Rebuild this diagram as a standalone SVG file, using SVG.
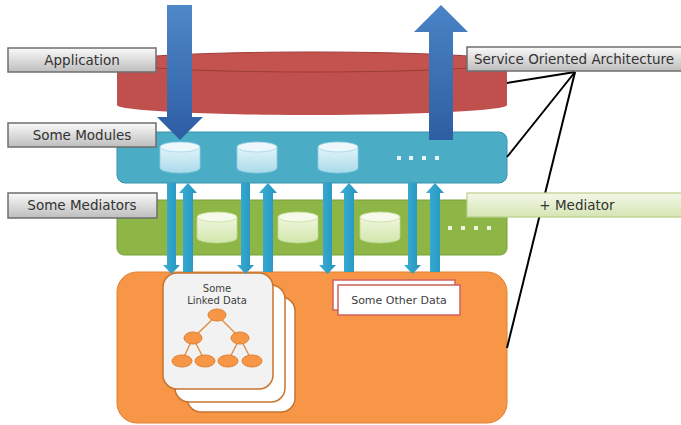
<svg xmlns="http://www.w3.org/2000/svg" width="681" height="425" viewBox="0 0 681 425">
  <defs>
    <linearGradient id="gLabel" x1="0" y1="0" x2="0" y2="1">
      <stop offset="0" stop-color="#FAFAFA"/>
      <stop offset="1" stop-color="#BDBDBD"/>
    </linearGradient>
    <linearGradient id="gLabelGreen" x1="0" y1="0" x2="0" y2="1">
      <stop offset="0" stop-color="#F3F8E8"/>
      <stop offset="1" stop-color="#D5E5B3"/>
    </linearGradient>
    <linearGradient id="gBigDown" x1="0" y1="0" x2="0" y2="1">
      <stop offset="0" stop-color="#4F88C9"/>
      <stop offset="1" stop-color="#2D5DA3"/>
    </linearGradient>
    <linearGradient id="gBigUp" x1="0" y1="0" x2="0" y2="1">
      <stop offset="0" stop-color="#4A84C6"/>
      <stop offset="1" stop-color="#2E5EA2"/>
    </linearGradient>
    <linearGradient id="gCylBlue" x1="0" y1="0" x2="0" y2="1">
      <stop offset="0" stop-color="#E4F4FA"/>
      <stop offset="1" stop-color="#A9DAEA"/>
    </linearGradient>
    <linearGradient id="gCylGreen" x1="0" y1="0" x2="0" y2="1">
      <stop offset="0" stop-color="#F0F7DF"/>
      <stop offset="1" stop-color="#D2E6AB"/>
    </linearGradient>
    <linearGradient id="gSmallArrow" x1="0" y1="0" x2="1" y2="0">
      <stop offset="0" stop-color="#3BB0D6"/>
      <stop offset="1" stop-color="#2592BD"/>
    </linearGradient>
    <style>
      .label { fill: url(#gLabel); stroke: #6E6E6E; stroke-width: 1.5; }
      .labelG { fill: url(#gLabelGreen); stroke: #B9CF8A; stroke-width: 1.2; }
      .lt { font-family: "DejaVu Sans", Verdana, sans-serif; font-size: 13.5px; fill: #333333; text-anchor: middle; }
      .st { font-family: "DejaVu Sans", Verdana, sans-serif; font-size: 10px; fill: #404040; text-anchor: middle; }
      .ot { font-family: "DejaVu Sans", Verdana, sans-serif; font-size: 11px; fill: #404040; text-anchor: middle; }
      .cylB { fill: url(#gCylBlue); stroke: #8CCDE2; stroke-width: 0.8; }
      .cylBtop { fill: #EEF8FC; stroke: #9ED4E6; stroke-width: 0.8; }
      .cylG { fill: url(#gCylGreen); stroke: #BCD88C; stroke-width: 0.8; }
      .cylGtop { fill: #F5FAEA; stroke: #C5DE98; stroke-width: 0.8; }
      .dot { fill: #E6F4F9; }
      .dotG { fill: #EEF5DF; }
      .arr { fill: url(#gSmallArrow); }
      .conn { stroke: #000000; stroke-width: 2; fill: none; }
      .card { stroke: #C8742E; stroke-width: 1.5; rx: 14; }
      .tl { stroke: #E0883A; stroke-width: 1.3; }
      .tn { fill: #F79646; stroke: #E07E30; stroke-width: 1; }
      .od { fill: #FFFFFF; stroke: #D0605C; stroke-width: 1.5; }
    </style>
  </defs>

  <!-- application layer: flat red cylinder -->
  <g id="application">
    <path d="M117,62 L117,105 A195,10 0 0 0 507,105 L507,62 Z" fill="#C0504D"/>
    <ellipse cx="312" cy="62" rx="195" ry="10" fill="#C4524F" stroke="#9E3B38" stroke-width="1"/>
  </g>

  <!-- modules layer -->
  <g id="modules">
    <rect x="117" y="132" width="390" height="51" rx="8" fill="#4BACC6" stroke="#3A92AD" stroke-width="1"/>
    <g>
      <path class="cylB" d="M160,147 L160,168 A20,5 0 0 0 200,168 L200,147 Z"/>
      <ellipse class="cylBtop" cx="180" cy="147" rx="20" ry="5"/>
      <path class="cylB" d="M237,147 L237,168 A20,5 0 0 0 277,168 L277,147 Z"/>
      <ellipse class="cylBtop" cx="257" cy="147" rx="20" ry="5"/>
      <path class="cylB" d="M318,147 L318,168 A20,5 0 0 0 358,168 L358,147 Z"/>
      <ellipse class="cylBtop" cx="338" cy="147" rx="20" ry="5"/>
    </g>
    <rect class="dot" x="397" y="156" width="4" height="4"/>
    <rect class="dot" x="409" y="156" width="4" height="4"/>
    <rect class="dot" x="422" y="156" width="4" height="4"/>
    <rect class="dot" x="435" y="156" width="4" height="4"/>
  </g>

  <!-- mediators layer -->
  <g id="mediators">
    <rect x="117" y="200" width="390" height="55" rx="7" fill="#8DB647" stroke="#76A03A" stroke-width="1"/>
    <path class="cylG" d="M197,217 L197,238 A20,5 0 0 0 237,238 L237,217 Z"/>
    <ellipse class="cylGtop" cx="217" cy="217" rx="20" ry="5"/>
    <path class="cylG" d="M278,217 L278,238 A20,5 0 0 0 318,238 L318,217 Z"/>
    <ellipse class="cylGtop" cx="298" cy="217" rx="20" ry="5"/>
    <path class="cylG" d="M360,217 L360,238 A20,5 0 0 0 400,238 L400,217 Z"/>
    <ellipse class="cylGtop" cx="380" cy="217" rx="20" ry="5"/>
    <rect class="dotG" x="448" y="226" width="4" height="4"/>
    <rect class="dotG" x="461" y="226" width="4" height="4"/>
    <rect class="dotG" x="474" y="226" width="4" height="4"/>
    <rect class="dotG" x="487" y="226" width="4" height="4"/>
  </g>

  <!-- data layer -->
  <g id="data">
    <rect x="117" y="272" width="390" height="151" rx="20" fill="#F79646" stroke="#E0812F" stroke-width="1"/>
  </g>

  <!-- linked data card stack -->
  <g id="linked-data">
    <rect class="card" x="187" y="297" width="108" height="115" fill="#FFFFFF"/>
    <rect class="card" x="175" y="285" width="110" height="117" fill="#FFFFFF"/>
    <rect class="card" x="163" y="273" width="110" height="116" fill="#F2F2F2"/>
    <text class="st" x="217" y="292">Some</text>
    <text class="st" x="217" y="304">Linked Data</text>
    <g>
      <line class="tl" x1="217" y1="315" x2="193" y2="338"/>
      <line class="tl" x1="217" y1="315" x2="240" y2="338"/>
      <line class="tl" x1="193" y1="338" x2="182" y2="361"/>
      <line class="tl" x1="193" y1="338" x2="205" y2="361"/>
      <line class="tl" x1="240" y1="338" x2="228" y2="361"/>
      <line class="tl" x1="240" y1="338" x2="252" y2="361"/>
      <ellipse class="tn" cx="217" cy="315" rx="9" ry="6"/>
      <ellipse class="tn" cx="193" cy="338" rx="9" ry="6"/>
      <ellipse class="tn" cx="240" cy="338" rx="9" ry="6"/>
      <ellipse class="tn" cx="182" cy="361" rx="10" ry="6"/>
      <ellipse class="tn" cx="205" cy="361" rx="10" ry="6"/>
      <ellipse class="tn" cx="228" cy="361" rx="10" ry="6"/>
      <ellipse class="tn" cx="252" cy="361" rx="10" ry="6"/>
    </g>
  </g>

  <!-- other data card pair -->
  <g id="other-data">
    <rect class="od" x="333" y="280" width="122" height="30"/>
    <rect class="od" x="338" y="285" width="122" height="30"/>
    <text class="ot" x="399" y="304">Some Other Data</text>
  </g>

  <!-- connectors: arrows between layers and lines to the architecture label -->
  <g id="connectors">
    <!-- request into the module layer -->
    <polygon fill="url(#gBigDown)" points="167,5 192,5 192,117 203,117 180,140 157,117 167,117"/>
    <!-- response out of the module layer -->
    <polygon fill="url(#gBigUp)" points="429,140 453,140 453,32 468,32 441,5 414,32 429,32"/>

    <!-- module <-> data pairs -->
    <polygon class="arr" points="167,183 176,183 176,265 180,265 171.5,274 163,265 167,265"/>
    <polygon class="arr" points="183,272 193,272 193,193 197,193 188,183 179,193 183,193"/>
    <polygon class="arr" points="241,183 250,183 250,265 254,265 245.5,274 237,265 241,265"/>
    <polygon class="arr" points="263,272 273,272 273,193 277,193 268,183 259,193 263,193"/>
    <polygon class="arr" points="323,183 332,183 332,265 336,265 327.5,274 319,265 323,265"/>
    <polygon class="arr" points="344,272 354,272 354,193 358,193 349,183 340,193 344,193"/>
    <polygon class="arr" points="408,183 417,183 417,265 421,265 412.5,274 404,265 408,265"/>
    <polygon class="arr" points="430,272 440,272 440,193 444,193 435,183 426,193 430,193"/>

    <line class="conn" x1="575" y1="72" x2="507" y2="83"/>
    <line class="conn" x1="575" y1="72" x2="507" y2="157"/>
    <line class="conn" x1="575" y1="72" x2="507" y2="348"/>
  </g>

  <!-- side labels -->
  <g id="label-application">
    <rect class="label" x="8" y="48" width="148" height="24"/>
    <text class="lt" x="82" y="65">Application</text>
  </g>
  <g id="label-modules">
    <rect class="label" x="8" y="123" width="148" height="24"/>
    <text class="lt" x="82" y="140">Some Modules</text>
  </g>
  <g id="label-mediators">
    <rect class="label" x="8" y="193" width="149" height="25"/>
    <text class="lt" x="82" y="210">Some Mediators</text>
  </g>
  <g id="label-soa">
    <rect class="label" x="467" y="47" width="218" height="24"/>
    <text class="lt" x="574" y="64">Service Oriented Architecture</text>
  </g>
  <g id="label-mediator-plus">
    <rect class="labelG" x="467" y="193" width="218" height="24"/>
    <text class="lt" x="577" y="210">+ Mediator</text>
  </g>
</svg>
